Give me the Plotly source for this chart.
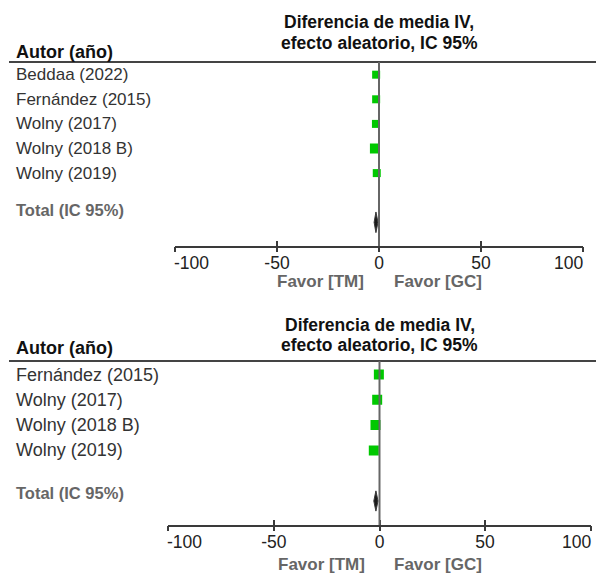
import plotly.graph_objects as go

# ---------------- data ----------------
top_studies = ["Beddaa (2022)", "Fernández (2015)", "Wolny (2017)", "Wolny (2018 B)", "Wolny (2019)"]
top_md = [-1.4, -1.4, -1.5, -2.0, -1.1]
top_total = [-2.4, -1.5, -0.5]          # lower, estimate, upper

bot_studies = ["Fernández (2015)", "Wolny (2017)", "Wolny (2018 B)", "Wolny (2019)"]
bot_md = [-0.3, -1.1, -1.9, -2.7]
bot_total = [-2.7, -1.7, -0.7]          # lower, estimate, upper

tick_vals = [-100, -50, 0, 50, 100]
tick_labels = ["-100", "-50", "0", "50", "100"]

header_author = "Autor (año)"
header_effect = ["Diferencia de media IV,", "efecto aleatorio, IC 95%"]
total_label = "Total (IC 95%)"
favor_labels = ["Favor [TM]", "Favor [GC]"]

# ---------------- style ----------------
W, H = 596, 576
FONT = "Liberation Sans, Arial, sans-serif"
GREEN = "#00c800"
LINE = "#3a3a3a"
TICKFONT = dict(family=FONT, size=17.5, color="#222222")
top_sizes = [8, 8, 8, 10, 8]
bot_sizes = [10, 10, 10, 10]


def px_x(p):
    return p / W


def px_y(p):
    return 1 - p / H


fig = go.Figure()
annotations = []
shapes = []

panels = [
    dict(studies=top_studies, md=top_md, total=top_total, sizes=top_sizes,
         xa="x", ya="y", xo="x3", xdom=[px_x(175), px_x(583)],
         ydom=[px_y(246), px_y(62)], yr=[6.963, -0.516], total_row=6, total_lab_row=5.5,
         title_y=[22, 43], author_y=52, tick_y=263, favor_y=281, favor_dx=6.5,
         lab_size=17, dh=0.42),
    dict(studies=bot_studies, md=bot_md, total=bot_total, sizes=bot_sizes,
         xa="x2", ya="y2", xo="x4", xdom=[px_x(168.3), px_x(590.7)],
         ydom=[px_y(525), px_y(361)], yr=[5.949, -0.534], total_row=5, total_lab_row=4.7,
         title_y=[324.5, 344.5], author_y=348, tick_y=542, favor_y=564, favor_dx=6,
         lab_size=18, dh=0.4),
]

layout_axes = {}
for i, p in enumerate(panels):
    n = len(p["studies"])
    rows = list(range(n))
    # study squares
    fig.add_trace(go.Scatter(
        x=p["md"], y=rows, mode="markers", xaxis=p["xa"], yaxis=p["ya"],
        marker=dict(symbol="square", color=GREEN, size=p["sizes"], opacity=1,
                    line=dict(width=0)),
        hoverinfo="x", showlegend=False))
    # pooled diamond
    lo, est, hi = p["total"]
    r = p["total_row"]
    dh = p["dh"]
    fig.add_trace(go.Scatter(
        x=[lo, est, hi, est, lo], y=[r, r - dh, r, r + dh, r], mode="lines",
        fill="toself", fillcolor="#1a1a1a", line=dict(color="#3a3a3a", width=1),
        xaxis=p["xo"], yaxis=p["ya"], hoverinfo="skip", showlegend=False))

    xkey = "xaxis" if i == 0 else "xaxis2"
    ykey = "yaxis" if i == 0 else "yaxis2"
    okey = "xaxis3" if i == 0 else "xaxis4"
    # inner tick labels from the axis; the end labels sit inside the axis ends
    inner_text = [""] + tick_labels[1:-1] + [""]
    layout_axes[xkey] = dict(
        domain=p["xdom"], anchor=p["ya"], range=[-100, 100], fixedrange=True,
        automargin=False,
        showgrid=False, zeroline=False, showline=True, linecolor=LINE, linewidth=2,
        ticks="inside", ticklen=5, tickwidth=2, tickcolor=LINE,
        tickvals=tick_vals, ticktext=inner_text, tickfont=TICKFONT)
    # overlay axis: the downward half of each tick
    layout_axes[okey] = dict(
        overlaying=p["xa"], anchor=p["ya"], range=[-100, 100], fixedrange=True,
        automargin=False,
        showgrid=False, zeroline=False, showline=False,
        ticks="outside", ticklen=5, tickwidth=2, tickcolor=LINE,
        tickvals=tick_vals, showticklabels=False)
    layout_axes[ykey] = dict(
        domain=p["ydom"], anchor=p["xa"], range=p["yr"], fixedrange=True,
        automargin=False,
        showgrid=False, zeroline=False, showline=False, showticklabels=False, ticks="")

    annotations.append(dict(
        text=tick_labels[0], x=tick_vals[0], y=px_y(p["tick_y"]), xref=p["xa"], yref="paper",
        xanchor="left", yanchor="middle", showarrow=False, xshift=-3, font=TICKFONT))
    annotations.append(dict(
        text=tick_labels[-1], x=tick_vals[-1], y=px_y(p["tick_y"]), xref=p["xa"], yref="paper",
        xanchor="right", yanchor="middle", showarrow=False, xshift=2, font=TICKFONT))

    # study labels
    for row, name in zip(rows, p["studies"]):
        annotations.append(dict(
            text=name, x=px_x(14), y=row, xref="paper", yref=p["ya"],
            xanchor="left", yanchor="middle", showarrow=False,
            font=dict(family=FONT, size=p["lab_size"], color="#333333")))
    annotations.append(dict(
        text="<b>%s</b>" % total_label, x=px_x(14), y=p["total_lab_row"], xref="paper",
        yref=p["ya"], xanchor="left", yanchor="middle", showarrow=False,
        font=dict(family=FONT, size=16.5, color="#666666")))
    annotations.append(dict(
        text="<b>%s</b>" % header_author, x=px_x(14), y=px_y(p["author_y"]), xref="paper",
        yref="paper", xanchor="left", yanchor="middle", showarrow=False,
        font=dict(family=FONT, size=18, color="#111111")))
    for line, yy in zip(header_effect, p["title_y"]):
        annotations.append(dict(
            text="<b>%s</b>" % line, x=0, y=px_y(yy), xref=p["xa"], yref="paper",
            xanchor="center", yanchor="middle", showarrow=False,
            font=dict(family=FONT, size=17.5, color="#111111")))
    annotations.append(dict(
        text="<b>%s</b>" % favor_labels[0], x=-p["favor_dx"], y=px_y(p["favor_y"]),
        xref=p["xa"], yref="paper", xanchor="right", yanchor="middle", showarrow=False,
        font=dict(family=FONT, size=17, color="#666666")))
    annotations.append(dict(
        text="<b>%s</b>" % favor_labels[1], x=p["favor_dx"], y=px_y(p["favor_y"]),
        xref=p["xa"], yref="paper", xanchor="left", yanchor="middle", showarrow=False,
        font=dict(family=FONT, size=17, color="#666666")))

    # header rule and line of no effect
    shapes.append(dict(type="line", xref="paper", yref="%s domain" % p["ya"],
                       x0=px_x(9), x1=1, y0=1, y1=1, line=dict(color="#444444", width=2)))
    shapes.append(dict(type="line", xref=p["xa"], yref="%s domain" % p["ya"],
                       x0=0, x1=0, y0=0, y1=1, line=dict(color="#666666", width=2)))

fig.update_layout(
    width=W, height=H, autosize=False,
    margin=dict(l=0, r=0, t=0, b=0, autoexpand=False),
    paper_bgcolor="white", plot_bgcolor="white",
    font=dict(family=FONT),
    showlegend=False,
    annotations=annotations, shapes=shapes,
    **layout_axes)

fig.write_html(
    "out.html",
    config={"displayModeBar": False},
    post_script="document.body.style.margin='0';document.body.style.overflow='hidden';")
